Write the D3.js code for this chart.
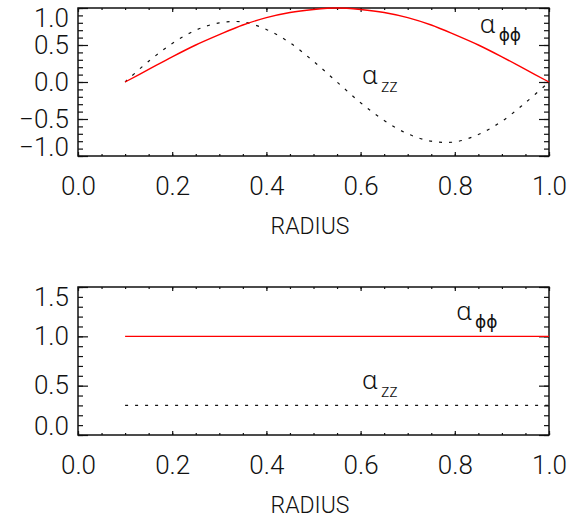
<!DOCTYPE html>
<html>
<head>
<meta charset="utf-8">
<script src="https://cdn.jsdelivr.net/npm/d3@7.9.0/dist/d3.min.js"></script>
<style>
  body { margin: 0; background: #fff; }
  svg text { font-family: Roboto, "DejaVu Sans", sans-serif; font-weight: 300; fill: #111; }
</style>
</head>
<body>
<svg id="chart" width="569" height="520"></svg>
<script>
// radius samples
const radius = [0.10, 0.15, 0.20, 0.25, 0.30, 0.35, 0.40, 0.45, 0.50, 0.55,
                0.60, 0.65, 0.70, 0.75, 0.80, 0.85, 0.90, 0.95, 1.00];
const alphaPhiTop = [0, 0.17, 0.34, 0.50, 0.64, 0.77, 0.87, 0.94, 0.98, 1.00,
                     0.98, 0.94, 0.87, 0.77, 0.64, 0.50, 0.34, 0.17, 0];
const alphaZzTop = [0, 0.28, 0.52, 0.70, 0.80, 0.81, 0.71, 0.53, 0.28, 0,
                    -0.28, -0.52, -0.70, -0.80, -0.81, -0.71, -0.53, -0.28, 0];

// lower panel: both profiles are flat
const radiusFlat = [0.10, 1.00];
const alphaPhiBottom = [1.0, 1.0];
const alphaZzBottom = [0.3, 0.3];

const xTicks = [0, 0.2, 0.4, 0.6, 0.8, 1.0];
const yTicksTop = [-1.0, -0.5, 0.0, 0.5, 1.0];
const yTicksBottom = [0.0, 0.5, 1.0, 1.5];

const svg = d3.select('#chart');
const fmt = d3.format('.1f');
const minus = s => s.replace('-', '\u2212');

// one boxed IDL-style panel
function drawPanel(opts) {
  const { top, yDomain, yTicks, series, labels } = opts;
  const left = 78, right = 549, height = 148;

  const x = d3.scaleLinear().domain([0, 1]).range([left, right]);
  const y = d3.scaleLinear().domain(yDomain).range([top + height, top]);
  const g = svg.append('g');

  const xMinor = d3.range(0, 1.0001, 0.05);
  const yMinor = d3.range(yDomain[0], yDomain[1] + 0.0001, 0.1);

  // minor ticks on all four sides
  g.append('g').attr('transform', `translate(0,${top + height})`)
    .call(d3.axisBottom(x).tickValues(xMinor).tickSize(-2).tickFormat(''));
  g.append('g').attr('transform', `translate(0,${top})`)
    .call(d3.axisTop(x).tickValues(xMinor).tickSize(-2).tickFormat(''));
  g.append('g').attr('transform', `translate(${left},0)`)
    .call(d3.axisLeft(y).tickValues(yMinor).tickSize(-5).tickFormat(''));
  g.append('g').attr('transform', `translate(${right},0)`)
    .call(d3.axisRight(y).tickValues(yMinor).tickSize(-5).tickFormat(''));

  // major ticks + labels
  g.append('g').attr('transform', `translate(0,${top + height})`)
    .call(d3.axisBottom(x).tickValues(xTicks).tickSize(-4).tickPadding(21).tickFormat(fmt));
  g.append('g').attr('transform', `translate(0,${top})`)
    .call(d3.axisTop(x).tickValues(xTicks).tickSize(-4).tickFormat(''));
  const yl = g.append('g').attr('transform', `translate(${left},0)`)
    .call(d3.axisLeft(y).tickValues(yTicks).tickSize(-10).tickPadding(9).tickFormat(d => minus(fmt(d))));
  g.append('g').attr('transform', `translate(${right},0)`)
    .call(d3.axisRight(y).tickValues(yTicks).tickSize(-10).tickFormat(''));

  g.selectAll('.domain').remove();
  g.selectAll('.tick line').attr('stroke', '#111').attr('stroke-width', 1.2);
  g.selectAll('.tick text').attr('font-size', 26).attr('fill', '#111')
    .style('font-family', 'Roboto, "DejaVu Sans", sans-serif');

  // end labels on the y axis sit a little inside the frame
  yl.selectAll('.tick text')
    .attr('y', d => d === yDomain[1] ? 10 : d === yDomain[0] ? -9 : 0);

  // frame
  g.append('rect')
    .attr('x', left).attr('y', top)
    .attr('width', right - left).attr('height', height)
    .attr('fill', 'none').attr('stroke', '#111').attr('stroke-width', 1.5);

  // axis title
  g.append('text')
    .attr('x', 310).attr('y', top + height + 78)
    .attr('text-anchor', 'middle')
    .attr('font-size', 23)
    .text('RADIUS');

  const line = d3.line()
    .x(d => x(d[0])).y(d => y(d[1]))
    .curve(d3.curveCatmullRom);

  series.forEach(s => {
    g.append('path')
      .datum(d3.zip(s.x, s.y))
      .attr('d', line)
      .attr('fill', 'none')
      .attr('stroke', s.color)
      .attr('stroke-width', s.width)
      .attr('stroke-dasharray', s.dash);
  });

  labels.forEach(l => {
    const t = g.append('text')
      .attr('x', x(l.r)).attr('y', y(l.v))
      .attr('font-size', 26);
    t.append('tspan')
      .style('font-family', '"Noto Sans", "DejaVu Sans", sans-serif')
      .style('font-weight', 300)
      .text('\u03b1');
    t.append('tspan').attr('dx', 3).attr('dy', 8).attr('font-size', l.greek ? 17 : 18)
      .style('font-family', l.greek ? '"DejaVu Sans", sans-serif' : '"Noto Sans", Roboto, sans-serif')
      .style('font-weight', l.greek ? 'normal' : 300)
      .text(l.sub);
  });
}

drawPanel({
  top: 8,
  yDomain: [-1, 1],
  yTicks: yTicksTop,
  series: [
    { x: radius, y: alphaZzTop, color: '#111', width: 1.2, dash: '3,7' },
    { x: radius, y: alphaPhiTop, color: '#ff0000', width: 1.4, dash: null }
  ],
  labels: [
    { r: 0.853, v: 0.66, sub: '\u03d5\u03d5', greek: true },
    { r: 0.603, v: -0.03, sub: 'zz' }
  ]
});

drawPanel({
  top: 287,
  yDomain: [0, 1.5],
  yTicks: yTicksBottom,
  series: [
    { x: radiusFlat, y: alphaZzBottom, color: '#111', width: 1.2, dash: '3,7' },
    { x: radiusFlat, y: alphaPhiBottom, color: '#ff0000', width: 1.4, dash: null }
  ],
  labels: [
    { r: 0.803, v: 1.17, sub: '\u03d5\u03d5', greek: true },
    { r: 0.603, v: 0.47, sub: 'zz' }
  ]
});
</script>
</body>
</html>
